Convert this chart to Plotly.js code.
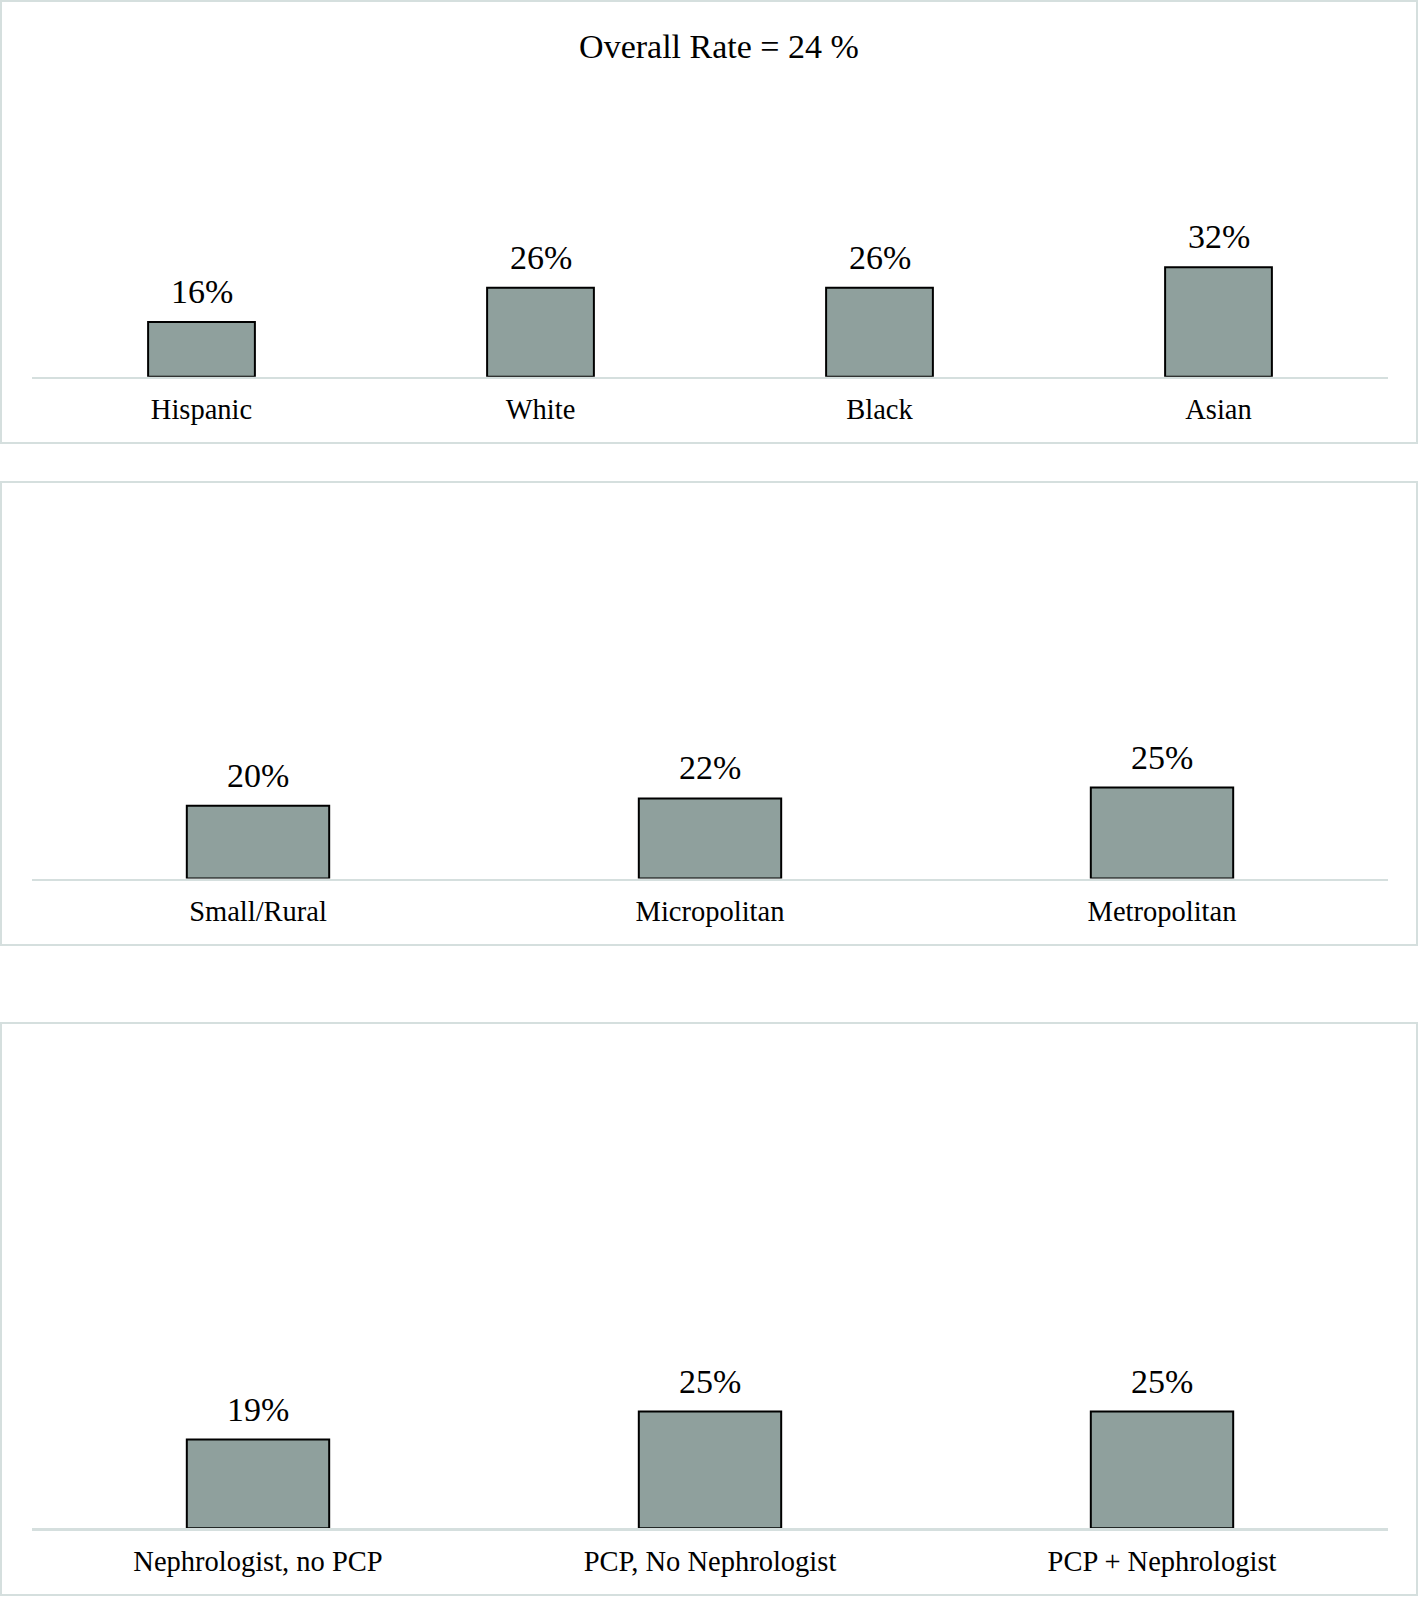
<!DOCTYPE html>
<html>
<head>
<meta charset="utf-8">
<script src="https://cdn.plot.ly/plotly-3.0.1.min.js"></script>
<style>
  html, body { margin: 0; padding: 0; background: #ffffff; }
  #chart { width: 1420px; height: 1597px; }
</style>
</head>
<body>
<div id="chart"></div>
<script>
// ---- Data ----
const chartTitle = "Overall Rate = 24 %";

const raceCategories = ["Hispanic", "White", "Black", "Asian"];
const raceValues = [16, 26, 26, 32];
const raceLabels = ["16%", "26%", "26%", "32%"];

const areaCategories = ["Small/Rural", "Micropolitan", "Metropolitan"];
const areaValues = [20, 22, 25];
const areaLabels = ["20%", "22%", "25%"];

const providerCategories = ["Nephrologist, no PCP", "PCP, No Nephrologist", "PCP + Nephrologist"];
const providerValues = [19, 25, 25];
const providerLabels = ["19%", "25%", "25%"];

// ---- Layout helpers (pixel -> paper) ----
const W = 1420, H = 1597;
const px = v => v / W;
const py = v => 1 - v / H;

const FONT = "Liberation Serif, Times New Roman, serif";
const barFill = "#8FA09D";
const lightLine = "#D5DFDE";

const groups = [
  { cats: raceCategories, vals: raceValues, labels: raceLabels, xa: "x", ya: "y" },
  { cats: areaCategories, vals: areaValues, labels: areaLabels, xa: "x2", ya: "y2" },
  { cats: providerCategories, vals: providerValues, labels: providerLabels, xa: "x3", ya: "y3" }
];

const data = groups.map(g => ({
  type: "bar",
  x: g.cats, y: g.vals,
  marker: { color: barFill, line: { color: "#000", width: 2 } },
  xaxis: g.xa, yaxis: g.ya,
  cliponaxis: false,
  hoverinfo: "x+y",
  showlegend: false
}));

// value labels placed at each bar's value through the axes
const valueAnnotations = [];
groups.forEach(g => {
  g.cats.forEach((c, i) => {
    valueAnnotations.push({
      xref: g.xa, yref: g.ya, x: c, y: g.vals[i],
      text: g.labels[i], showarrow: false,
      xanchor: "center", yanchor: "bottom", yshift: 10,
      font: { family: FONT, size: 34, color: "#000" }
    });
  });
});

// panel geometry: [axis y px, top y px, px per percent]
const panels = [
  { base: 376.7, top: 80, scale: 3.42 },
  { base: 878.5, top: 520, scale: 3.64 },
  { base: 1528.3, top: 1060, scale: 4.67 }
];

function xAxis(anchor) {
  return {
    domain: [px(32), px(1388)],
    anchor: anchor,
    showline: true, linecolor: lightLine, linewidth: 2.5,
    showgrid: false, zeroline: false, ticks: "",
    ticklabelstandoff: 6,
    tickfont: { family: FONT, size: 28.5, color: "#000" },
    fixedrange: true
  };
}
function yAxis(p, anchor) {
  return {
    domain: [py(p.base), py(p.top)],
    anchor: anchor,
    range: [0, (p.base - p.top) / p.scale],
    visible: false, showgrid: false, zeroline: false,
    fixedrange: true
  };
}

const borders = [[1, 443], [482, 945], [1023, 1595]].map(b => ({
  type: "rect", xref: "paper", yref: "paper",
  x0: px(1), x1: px(1417), y0: py(b[1]), y1: py(b[0]),
  line: { color: lightLine, width: 2 }, fillcolor: "rgba(0,0,0,0)", layer: "below"
}));

const layout = {
  width: W, height: H,
  margin: { l: 0, r: 0, t: 0, b: 0 },
  paper_bgcolor: "#ffffff", plot_bgcolor: "rgba(0,0,0,0)",
  bargap: 0.685,
  title: {
    text: chartTitle,
    font: { family: FONT, size: 34, color: "#000" },
    x: px(719), xanchor: "center", xref: "paper",
    y: py(46), yanchor: "middle", yref: "paper"
  },
  xaxis: xAxis("y"), yaxis: yAxis(panels[0], "x"),
  xaxis2: xAxis("y2"), yaxis2: yAxis(panels[1], "x2"),
  xaxis3: xAxis("y3"), yaxis3: yAxis(panels[2], "x3"),
  shapes: borders,
  annotations: valueAnnotations
};

Plotly.newPlot("chart", data, layout, { displayModeBar: false, staticPlot: true });
</script>
</body>
</html>
